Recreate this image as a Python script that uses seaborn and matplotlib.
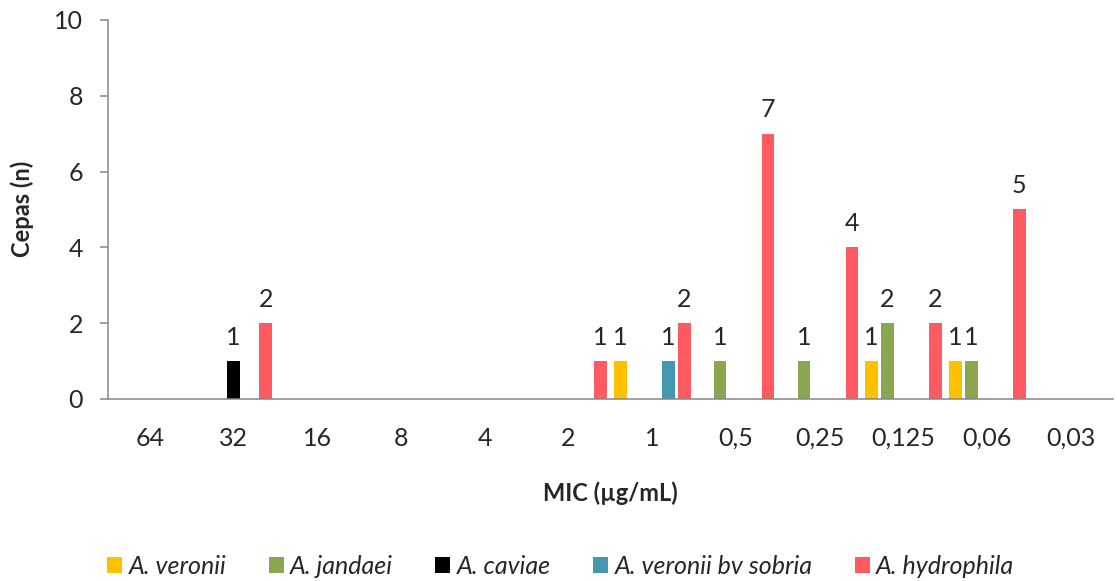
import matplotlib.pyplot as plt
import numpy as np
import pandas as pd
import seaborn as sns
from matplotlib.patches import Patch

MIC = ["64", "32", "16", "8", "4", "2", "1", "0,5", "0,25", "0,125", "0,06", "0,03"]

SPECIES = ["A. veronii", "A. jandaei", "A. caviae", "A. veronii bv sobria", "A. hydrophila"]

veronii = [0, 0, 0, 0, 0, 0, 1, 0, 0, 1, 1, 0]
jandaei = [0, 0, 0, 0, 0, 0, 0, 1, 1, 2, 1, 0]
caviae = [0, 1, 0, 0, 0, 0, 0, 0, 0, 0, 0, 0]
sobria = [0, 0, 0, 0, 0, 0, 1, 0, 0, 0, 0, 0]
hydrophila = [0, 2, 0, 0, 0, 1, 2, 7, 4, 2, 5, 0]

COLORS = {
    "A. veronii": "#FFC000",
    "A. jandaei": "#8BA650",
    "A. caviae": "#000000",
    "A. veronii bv sobria": "#4198AF",
    "A. hydrophila": "#FF5A5F",
}

AXIS_GRAY = "#868686"
FS = 18
FS_BOLD = 17

rows = []
for name, vals in zip(SPECIES, [veronii, jandaei, caviae, sobria, hydrophila]):
    for mic, v in zip(MIC, vals):
        rows.append({"MIC": mic, "n": v, "species": name})
df = pd.DataFrame(rows)

sns.set_theme(style="white")
plt.rcParams["font.family"] = ["Lato", "DejaVu Sans"]

fig = plt.figure(figsize=(11.17, 5.81), dpi=100)
ax = fig.add_axes([0.0967, 0.3133, 0.8997, 0.6523])

sns.barplot(data=df, x="MIC", y="n", hue="species", order=MIC, hue_order=SPECIES,
            palette=COLORS, saturation=1, width=0.955, gap=0.22, errorbar=None,
            legend=False, linewidth=0, ax=ax)

# only non-zero counts get a label, like the original
for cont in ax.containers:
    labels = [f"{int(v)}" if v else "" for v in cont.datavalues]
    ax.bar_label(cont, labels=labels, padding=9, fontsize=FS)

ax.set_xlim(-0.5, len(MIC) - 0.5)
ax.set_ylim(0, 10)
ax.set_yticks(np.arange(0, 11, 2))
ax.set_xlabel("")
ax.set_ylabel("")

for side in ["top", "right"]:
    ax.spines[side].set_visible(False)
for side in ["left", "bottom"]:
    ax.spines[side].set_color(AXIS_GRAY)
    ax.spines[side].set_linewidth(1.1)

# tick marks sit between categories, labels at category centers
ax.set_xticks(np.arange(-0.5, len(MIC), 1.0), minor=True)
ax.tick_params(axis="x", which="major", length=0, pad=20, labelsize=FS)
ax.tick_params(axis="x", which="minor", length=6, width=1.1, color=AXIS_GRAY, direction="out")
ax.tick_params(axis="y", which="major", length=6, width=1.1, color=AXIS_GRAY,
               direction="out", pad=12, labelsize=FS, left=True)

fig.text(0.5463, 1 - 493 / 581, "MIC (µg/mL)", ha="center", va="center",
         fontsize=FS_BOLD, fontweight="bold")
fig.text(22 / 1117, 1 - 209 / 581, "Cepas (n)", ha="center", va="center",
         rotation=90, fontsize=FS_BOLD, fontweight="bold")

handles = [Patch(facecolor=COLORS[s], edgecolor="none", label=s) for s in SPECIES]
fig.legend(handles=handles, loc="center", bbox_to_anchor=(0.502, 1 - 566 / 581), ncol=5,
           frameon=False, prop={"style": "italic", "size": FS},
           handlelength=0.6, handleheight=0.6, handletextpad=0.25, columnspacing=1.7)

fig.savefig("out.png", dpi=100)
